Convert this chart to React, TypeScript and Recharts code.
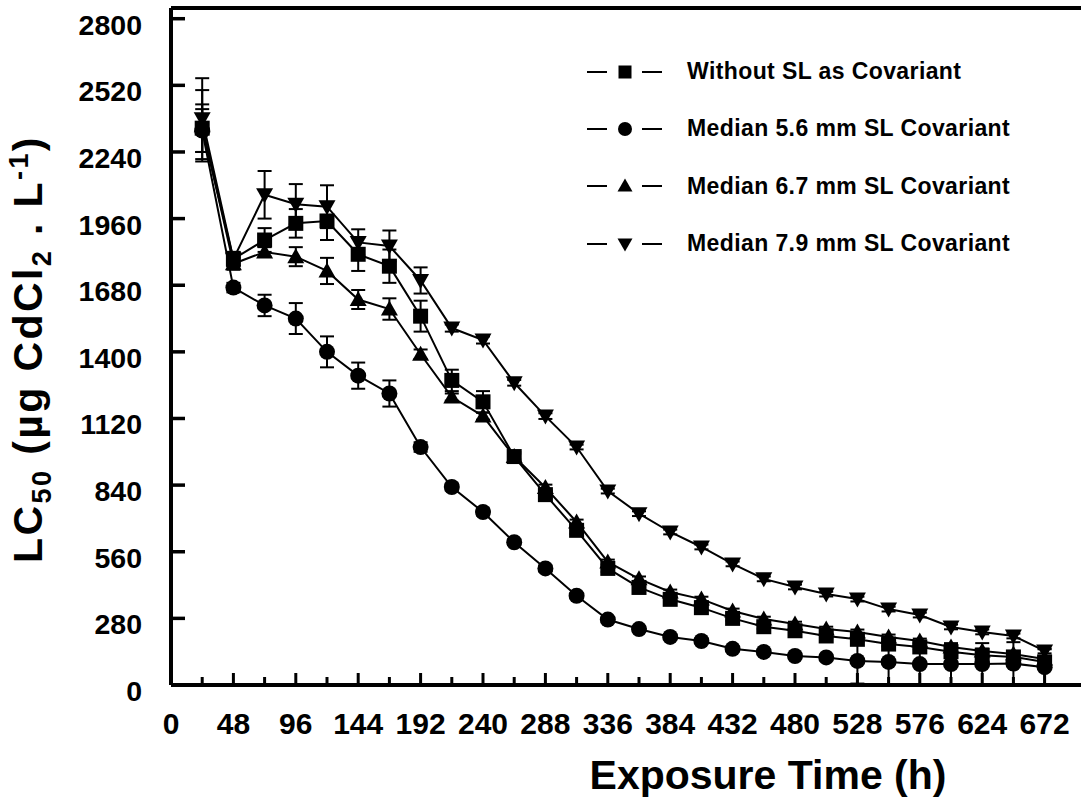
import React from 'react';
import { LineChart, Line, XAxis, YAxis, ErrorBar, ReferenceLine, Legend } from 'recharts';

// exposure time (h)
const hours = [24, 48, 72, 96, 120, 144, 168, 192, 216, 240, 264, 288, 312, 336, 360, 384, 408, 432, 456, 480, 504, 528, 552, 576, 600, 624, 648, 672];

// LC50 values
const withoutSL = [2340, 1790, 1870, 1940, 1950, 1810, 1760, 1550, 1280, 1190, 960, 800, 650, 490, 410, 360, 325, 280, 245, 228, 206, 192, 172, 160, 140, 125, 118, 97];
const withoutSLErr = [100, 30, 50, 60, 80, 70, 70, 65, 45, 45, 20, 15, 15, 15, 12, 12, 10, 10, 10, 10, 10, 10, 10, 10, 10, 10, 10, 10];

const median56 = [2330, 1670, 1595, 1540, 1400, 1300, 1225, 1000, 832, 727, 600, 490, 375, 275, 235, 202, 185, 152, 139, 122, 116, 101, 97, 88, 88, 88, 90, 75];
const median56Err = [90, 20, 45, 65, 65, 55, 55, 20, 15, 15, 12, 12, 10, 10, 10, 10, 10, 10, 10, 10, 10, 95, 95, 88, 88, 88, 90, 75];

const median67 = [2350, 1770, 1820, 1800, 1740, 1620, 1580, 1390, 1210, 1130, 960, 830, 685, 517, 446, 391, 361, 311, 277, 256, 235, 223, 202, 185, 160, 143, 130, 109];
const median67Err = [150, 25, 20, 40, 55, 40, 45, 20, 15, 15, 12, 12, 10, 10, 10, 10, 10, 10, 10, 10, 10, 10, 10, 10, 10, 10, 10, 10];

const median79 = [2380, 1790, 2060, 2020, 2010, 1860, 1845, 1700, 1500, 1450, 1270, 1130, 1000, 815, 720, 643, 580, 509, 446, 412, 382, 361, 319, 294, 244, 223, 206, 143];
const median79Err = [170, 30, 100, 85, 90, 55, 65, 55, 15, 15, 12, 12, 10, 10, 10, 10, 10, 10, 10, 10, 10, 10, 10, 10, 10, 10, 10, 10];

const xTicks = [0, 24, 48, 72, 96, 120, 144, 168, 192, 216, 240, 264, 288, 312, 336, 360, 384, 408, 432, 456, 480, 504, 528, 552, 576, 600, 624, 648, 672];
const yTicks = [0, 280, 560, 840, 1120, 1400, 1680, 1960, 2240, 2520, 2800];

const seriesNames = [
  'Without SL as Covariant',
  'Median 5.6 mm SL Covariant',
  'Median 6.7 mm SL Covariant',
  'Median 7.9 mm SL Covariant',
];
const seriesShapes = ['square', 'circle', 'up', 'down'];

const data = hours.map((h, i) => ({
  h,
  sq: withoutSL[i],
  sqErr: withoutSLErr[i],
  ci: median56[i],
  ciErr: median56Err[i],
  up: median67[i],
  upErr: median67Err[i],
  dn: median79[i],
  dnErr: median79Err[i],
}));

const FONT = '"Liberation Sans", Arial, sans-serif';

const Marker = ({ cx, cy, shape, size = 15 }: any) => {
  if (cx == null || cy == null) return null;
  const s = size / 2;
  if (shape === 'square') return <rect x={cx - s} y={cy - s} width={size} height={size} fill="#000" />;
  if (shape === 'circle') return <circle cx={cx} cy={cy} r={s + 0.5} fill="#000" />;
  if (shape === 'up')
    return <polygon points={`${cx},${cy - s - 1} ${cx + s + 1},${cy + s - 1} ${cx - s - 1},${cy + s - 1}`} fill="#000" />;
  return <polygon points={`${cx},${cy + s + 1} ${cx + s + 1},${cy - s + 1} ${cx - s - 1},${cy - s + 1}`} fill="#000" />;
};

const XTick = ({ x, y, payload }: any) => {
  const major = payload.value % 48 === 0;
  return (
    <g>
      <line x1={x} x2={x} y1={y} y2={y - (major ? 12 : 8)} stroke="#000" strokeWidth={3} />
      {major && (
        <text x={x} y={y + 49} textAnchor="middle" fontFamily={FONT} fontWeight="bold" fontSize={30} fill="#000">
          {payload.value}
        </text>
      )}
    </g>
  );
};

const YTick = ({ x, y, payload }: any) => (
  <g>
    <line x1={x} x2={x + 14} y1={y} y2={y} stroke="#000" strokeWidth={3.5} />
    <text x={x - 29} y={y + 16} textAnchor="end" fontFamily={FONT} fontWeight="bold" fontSize={28.5} fill="#000">
      {payload.value}
    </text>
  </g>
);

const XTitle = () => (
  <text x={768} y={789} textAnchor="middle" fontFamily={FONT} fontWeight="bold" fontSize={41} fill="#000">
    Exposure Time (h)
  </text>
);

const YTitle = () => (
  <text
    transform="translate(42,349) rotate(-90)"
    textAnchor="middle"
    fontFamily={FONT}
    fontWeight="bold"
    fontSize={41}
    letterSpacing={2.4}
    fill="#000"
  >
    LC<tspan dy={9} fontSize={27}>50</tspan>
    <tspan dy={-9}> (µg CdCl</tspan>
    <tspan dy={9} fontSize={27}>2</tspan>
    <tspan dy={-9}> . L</tspan>
    <tspan dy={-14} fontSize={27}>-1</tspan>
    <tspan dy={14}>)</tspan>
  </text>
);

const LegendContent = () => (
  <div style={{ fontFamily: FONT, fontWeight: 'bold', fontSize: 23, color: '#000' }}>
    {seriesNames.map((name, i) => (
      <div key={name} style={{ display: 'flex', alignItems: 'center', height: 57.3 }}>
        <svg width={78} height={20}>
          <line x1={0} x2={20} y1={10} y2={10} stroke="#000" strokeWidth={2} />
          <Marker cx={38} cy={10} shape={seriesShapes[i]} size={13} />
          <line x1={55} x2={75} y1={10} y2={10} stroke="#000" strokeWidth={2} />
        </svg>
        <span style={{ marginLeft: 22, letterSpacing: 0.4 }}>{name}</span>
      </div>
    ))}
  </div>
);

const seriesKeys = ['sq', 'ci', 'up', 'dn'];

export default function App() {
  return (
    <div style={{ position: 'absolute', left: 0, top: 0, background: '#fff' }}>
      <LineChart width={1081} height={801} data={data} margin={{ top: 8, right: 0, left: 0, bottom: 0 }}>
        <XAxis
          dataKey="h"
          type="number"
          domain={[0, 700]}
          ticks={xTicks}
          interval={0}
          height={116}
          tickSize={0}
          tickMargin={0}
          tick={<XTick />}
          axisLine={{ stroke: '#000', strokeWidth: 4 }}
          tickLine={false}
          label={XTitle}
        />
        <YAxis
          type="number"
          domain={[0, 2845]}
          ticks={yTicks}
          interval={0}
          width={171}
          tickSize={0}
          tickMargin={0}
          tick={<YTick />}
          axisLine={{ stroke: '#000', strokeWidth: 4 }}
          tickLine={false}
          label={YTitle}
        />
        <ReferenceLine y={2845} stroke="#000" strokeWidth={4} />
        <Legend
          layout="vertical"
          align="center"
          verticalAlign="middle"
          wrapperStyle={{ left: 587, top: 43, width: 490 }}
          content={<LegendContent />}
        />
        {seriesKeys.map((k, i) => (
          <Line
            key={k}
            dataKey={k}
            name={seriesNames[i]}
            type="linear"
            stroke="#000"
            strokeWidth={2}
            isAnimationActive={false}
            activeDot={false}
            dot={(p: any) => <Marker key={`${k}-${p.index}`} cx={p.cx} cy={p.cy} shape={seriesShapes[i]} />}
          >
            <ErrorBar dataKey={`${k}Err`} width={7} stroke="#000" strokeWidth={2} direction="y" isAnimationActive={false} />
          </Line>
        ))}
      </LineChart>
    </div>
  );
}
